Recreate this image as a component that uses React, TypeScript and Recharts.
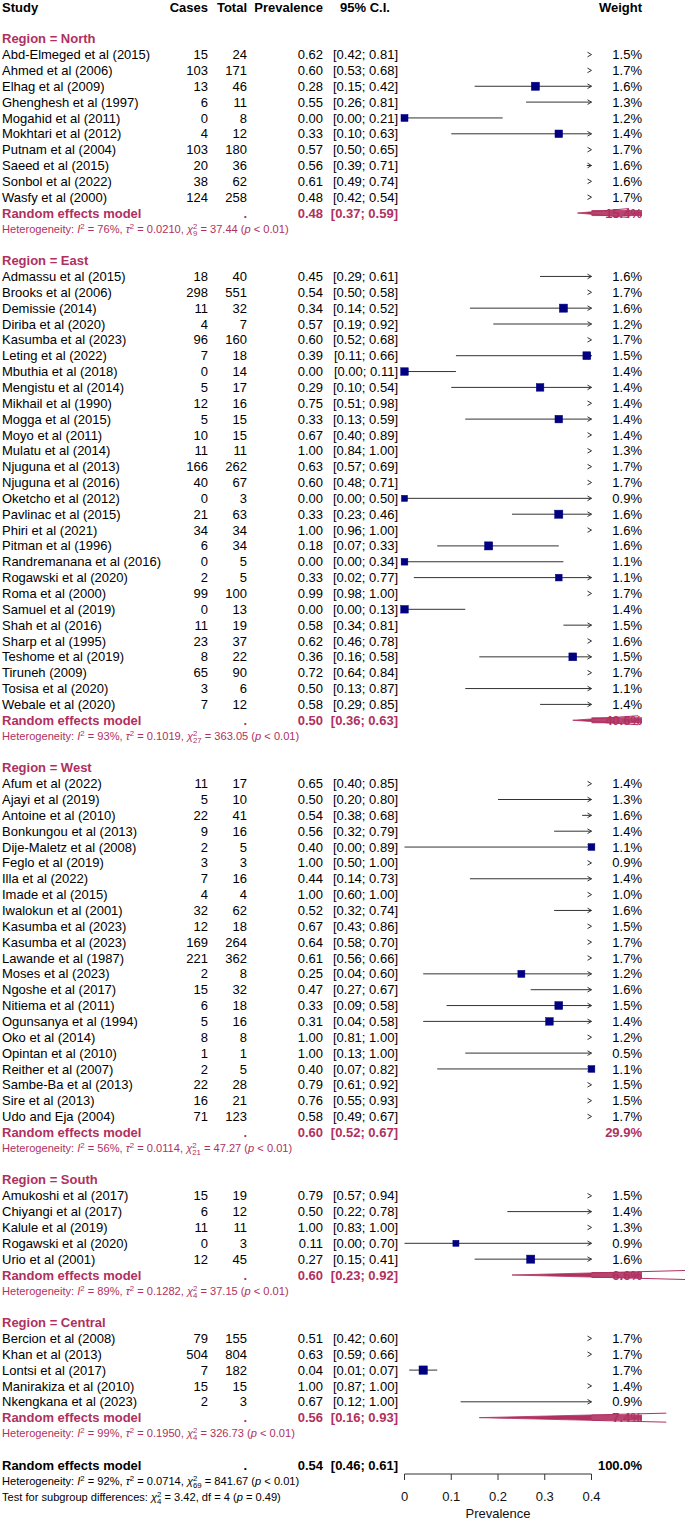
import React from 'react';
import { ScatterChart, Scatter, XAxis, YAxis, ReferenceLine, ReferenceDot } from 'recharts';

type Study = [string, number, number, number, number, number, number];
// [study, cases, total, prevalence, lower, upper, weight %]

const northStudies: Study[] = [
  ['Abd-Elmeged et al (2015)', 15, 24, 0.62, 0.42, 0.81, 1.5],
  ['Ahmed et al (2006)', 103, 171, 0.60, 0.53, 0.68, 1.7],
  ['Elhag et al (2009)', 13, 46, 0.28, 0.15, 0.42, 1.6],
  ['Ghenghesh et al (1997)', 6, 11, 0.55, 0.26, 0.81, 1.3],
  ['Mogahid et al (2011)', 0, 8, 0.00, 0.00, 0.21, 1.2],
  ['Mokhtari et al (2012)', 4, 12, 0.33, 0.10, 0.63, 1.4],
  ['Putnam et al (2004)', 103, 180, 0.57, 0.50, 0.65, 1.7],
  ['Saeed et al (2015)', 20, 36, 0.56, 0.39, 0.71, 1.6],
  ['Sonbol et al (2022)', 38, 62, 0.61, 0.49, 0.74, 1.6],
  ['Wasfy et al (2000)', 124, 258, 0.48, 0.42, 0.54, 1.7],
];

const eastStudies: Study[] = [
  ['Admassu et al (2015)', 18, 40, 0.45, 0.29, 0.61, 1.6],
  ['Brooks et al (2006)', 298, 551, 0.54, 0.50, 0.58, 1.7],
  ['Demissie (2014)', 11, 32, 0.34, 0.14, 0.52, 1.6],
  ['Diriba et al (2020)', 4, 7, 0.57, 0.19, 0.92, 1.2],
  ['Kasumba et al (2023)', 96, 160, 0.60, 0.52, 0.68, 1.7],
  ['Leting et al (2022)', 7, 18, 0.39, 0.11, 0.66, 1.5],
  ['Mbuthia et al (2018)', 0, 14, 0.00, 0.00, 0.11, 1.4],
  ['Mengistu et al (2014)', 5, 17, 0.29, 0.10, 0.54, 1.4],
  ['Mikhail et al (1990)', 12, 16, 0.75, 0.51, 0.98, 1.4],
  ['Mogga et al (2015)', 5, 15, 0.33, 0.13, 0.59, 1.4],
  ['Moyo et al (2011)', 10, 15, 0.67, 0.40, 0.89, 1.4],
  ['Mulatu et al (2014)', 11, 11, 1.00, 0.84, 1.00, 1.3],
  ['Njuguna et al (2013)', 166, 262, 0.63, 0.57, 0.69, 1.7],
  ['Njuguna et al (2016)', 40, 67, 0.60, 0.48, 0.71, 1.7],
  ['Oketcho et al (2012)', 0, 3, 0.00, 0.00, 0.50, 0.9],
  ['Pavlinac et al (2015)', 21, 63, 0.33, 0.23, 0.46, 1.6],
  ['Phiri et al (2021)', 34, 34, 1.00, 0.96, 1.00, 1.6],
  ['Pitman et al (1996)', 6, 34, 0.18, 0.07, 0.33, 1.6],
  ['Randremanana et al (2016)', 0, 5, 0.00, 0.00, 0.34, 1.1],
  ['Rogawski et al (2020)', 2, 5, 0.33, 0.02, 0.77, 1.1],
  ['Roma et al (2000)', 99, 100, 0.99, 0.98, 1.00, 1.7],
  ['Samuel et al (2019)', 0, 13, 0.00, 0.00, 0.13, 1.4],
  ['Shah et al (2016)', 11, 19, 0.58, 0.34, 0.81, 1.5],
  ['Sharp et al (1995)', 23, 37, 0.62, 0.46, 0.78, 1.6],
  ['Teshome et al (2019)', 8, 22, 0.36, 0.16, 0.58, 1.5],
  ['Tiruneh (2009)', 65, 90, 0.72, 0.64, 0.84, 1.7],
  ['Tosisa et al (2020)', 3, 6, 0.50, 0.13, 0.87, 1.1],
  ['Webale et al (2020)', 7, 12, 0.58, 0.29, 0.85, 1.4],
];

const westStudies: Study[] = [
  ['Afum et al (2022)', 11, 17, 0.65, 0.40, 0.85, 1.4],
  ['Ajayi et al (2019)', 5, 10, 0.50, 0.20, 0.80, 1.3],
  ['Antoine et al (2010)', 22, 41, 0.54, 0.38, 0.68, 1.6],
  ['Bonkungou et al (2013)', 9, 16, 0.56, 0.32, 0.79, 1.4],
  ['Dije-Maletz et al (2008)', 2, 5, 0.40, 0.00, 0.89, 1.1],
  ['Feglo et al (2019)', 3, 3, 1.00, 0.50, 1.00, 0.9],
  ['Illa et al (2022)', 7, 16, 0.44, 0.14, 0.73, 1.4],
  ['Imade et al (2015)', 4, 4, 1.00, 0.60, 1.00, 1.0],
  ['Iwalokun et al (2001)', 32, 62, 0.52, 0.32, 0.74, 1.6],
  ['Kasumba et al (2023)', 12, 18, 0.67, 0.43, 0.86, 1.5],
  ['Kasumba et al (2023)', 169, 264, 0.64, 0.58, 0.70, 1.7],
  ['Lawande et al (1987)', 221, 362, 0.61, 0.56, 0.66, 1.7],
  ['Moses et al (2023)', 2, 8, 0.25, 0.04, 0.60, 1.2],
  ['Ngoshe et al (2017)', 15, 32, 0.47, 0.27, 0.67, 1.6],
  ['Nitiema et al (2011)', 6, 18, 0.33, 0.09, 0.58, 1.5],
  ['Ogunsanya et al (1994)', 5, 16, 0.31, 0.04, 0.58, 1.4],
  ['Oko et al (2014)', 8, 8, 1.00, 0.81, 1.00, 1.2],
  ['Opintan et al (2010)', 1, 1, 1.00, 0.13, 1.00, 0.5],
  ['Reither et al (2007)', 2, 5, 0.40, 0.07, 0.82, 1.1],
  ['Sambe-Ba et al (2013)', 22, 28, 0.79, 0.61, 0.92, 1.5],
  ['Sire et al (2013)', 16, 21, 0.76, 0.55, 0.93, 1.5],
  ['Udo and Eja (2004)', 71, 123, 0.58, 0.49, 0.67, 1.7],
];

const southStudies: Study[] = [
  ['Amukoshi et al (2017)', 15, 19, 0.79, 0.57, 0.94, 1.5],
  ['Chiyangi et al (2017)', 6, 12, 0.50, 0.22, 0.78, 1.4],
  ['Kalule et al (2019)', 11, 11, 1.00, 0.83, 1.00, 1.3],
  ['Rogawski et al (2020)', 0, 3, 0.11, 0.00, 0.70, 0.9],
  ['Urio et al (2001)', 12, 45, 0.27, 0.15, 0.41, 1.6],
];

const centralStudies: Study[] = [
  ['Bercion et al (2008)', 79, 155, 0.51, 0.42, 0.60, 1.7],
  ['Khan et al (2013)', 504, 804, 0.63, 0.59, 0.66, 1.7],
  ['Lontsi et al (2017)', 7, 182, 0.04, 0.01, 0.07, 1.7],
  ['Manirakiza et al (2010)', 15, 15, 1.00, 0.87, 1.00, 1.4],
  ['Nkengkana et al (2023)', 2, 3, 0.67, 0.12, 1.00, 0.9],
];

const regionNames = ['North', 'East', 'West', 'South', 'Central'];
const regionStudies = [northStudies, eastStudies, westStudies, southStudies, centralStudies];
const subgroupEst = [0.48, 0.50, 0.60, 0.60, 0.56];
const subgroupLower = [0.37, 0.36, 0.52, 0.23, 0.16];
const subgroupUpper = [0.59, 0.63, 0.67, 0.92, 0.93];
const subgroupWeight = ['15.4%', '40.6%', '29.9%', '6.6%', '7.4%'];
const hetI2 = ['76%', '93%', '56%', '89%', '99%'];
const hetTau2 = ['0.0210', '0.1019', '0.0114', '0.1282', '0.1950'];
const hetDf = ['9', '27', '21', '4', '4'];
const hetChi2 = ['37.44', '363.05', '47.27', '37.15', '326.73'];
const hetP = ['< 0.01', '< 0.01', '< 0.01', '< 0.01', '< 0.01'];

const overallSummary = [0.54, 0.46, 0.61];
const overallWeight = '100.0%';
const overallHet = ['92%', '0.0714', '69', '841.67', '< 0.01'];
const subgroupTest = ['4', '3.42', '4', '= 0.49'];

const xTicks = [0, 0.1, 0.2, 0.3, 0.4];
const X_MAX = 0.4;

// layout / style
const MAROON = '#B03060';
const NAVY = '#000080';
const LINE = '#333333';
const FS = 13;
const SFS = 11.1;
const SUP = 7.8;
const COL_STUDY = 2;
const COL_CASES = 208;
const COL_TOTAL = 247;
const COL_PREV = 323;
const COL_CI = 398;
const COL_CI_HEAD = 365;
const COL_WEIGHT = 642;
const Y_MAX = 92.555;

type RowKind = 'header' | 'blank' | 'region' | 'study' | 'sub' | 'het' | 'overall' | 'overallHet' | 'test';
interface Row { kind: RowKind; g?: number; s?: Study }

const rows: Row[] = [];
rows.push({ kind: 'header' });
rows.push({ kind: 'blank' });
regionStudies.forEach((list, g) => {
  rows.push({ kind: 'region', g });
  list.forEach((s) => rows.push({ kind: 'study', g, s }));
  rows.push({ kind: 'sub', g });
  rows.push({ kind: 'het', g });
  rows.push({ kind: 'blank' });
});
rows.push({ kind: 'overall' });
rows.push({ kind: 'overallHet' });
rows.push({ kind: 'test' });

const f2 = (v: number) => v.toFixed(2);
const ciText = (lo: number, hi: number) => `[${f2(lo)}; ${f2(hi)}]`;

const squareData = rows
  .map((r, i) => ({ r, i }))
  .filter(({ r }) => r.kind === 'study' && (r.s as Study)[3] <= X_MAX)
  .map(({ r, i }) => ({ x: (r.s as Study)[3], y: i, w: (r.s as Study)[6] }));

function txt(x: number, cy: number, s: string, anchor: 'start' | 'middle' | 'end', opts: { bold?: boolean; fill?: string; size?: number } = {}) {
  return (
    <text
      x={x}
      y={cy}
      dy="0.35em"
      textAnchor={anchor}
      fontSize={opts.size ?? FS}
      fontWeight={opts.bold ? 'bold' : 'normal'}
      fill={opts.fill ?? '#000'}
    >
      {s}
    </text>
  );
}

function chiPart(df: string) {
  const w2 = SUP * 0.556;
  return [
    <tspan key="c" fontStyle="italic">χ</tspan>,
    <tspan key="c2" dy={-4} fontSize={SUP}>2</tspan>,
    <tspan key="cd" dx={-w2} dy={7} fontSize={SUP}>{df}</tspan>,
  ];
}

function hetLine(cy: number, fill: string, i2: string, tau2: string, df: string, chi2: string, p: string) {
  return (
    <text x={COL_STUDY} y={cy} dy="0.35em" fontSize={SFS} fill={fill}>
      {'Heterogeneity: '}
      <tspan fontStyle="italic">I</tspan>
      <tspan dy={-4} fontSize={SUP}>2</tspan>
      <tspan dy={4}>{` = ${i2}, `}</tspan>
      <tspan fontStyle="italic">τ</tspan>
      <tspan dy={-4} fontSize={SUP}>2</tspan>
      <tspan dy={4}>{` = ${tau2}, `}</tspan>
      {chiPart(df)}
      <tspan dy={-3}>{` = ${chi2} (`}</tspan>
      <tspan fontStyle="italic">p</tspan>
      <tspan>{` ${p})`}</tspan>
    </text>
  );
}

function renderRow(row: Row, cy: number) {
  switch (row.kind) {
    case 'header':
      return (
        <g>
          {txt(COL_STUDY, cy, 'Study', 'start', { bold: true })}
          {txt(COL_CASES, cy, 'Cases', 'end', { bold: true })}
          {txt(COL_TOTAL, cy, 'Total', 'end', { bold: true })}
          {txt(COL_PREV, cy, 'Prevalence', 'end', { bold: true })}
          {txt(COL_CI_HEAD, cy, '95% C.I.', 'middle', { bold: true })}
          {txt(COL_WEIGHT, cy, 'Weight', 'end', { bold: true })}
        </g>
      );
    case 'region':
      return <g>{txt(COL_STUDY, cy, `Region = ${regionNames[row.g as number]}`, 'start', { bold: true, fill: MAROON })}</g>;
    case 'study': {
      const s = row.s as Study;
      return (
        <g>
          {txt(COL_STUDY, cy, s[0], 'start')}
          {txt(COL_CASES, cy, String(s[1]), 'end')}
          {txt(COL_TOTAL, cy, String(s[2]), 'end')}
          {txt(COL_PREV, cy, f2(s[3]), 'end')}
          {txt(COL_CI, cy, ciText(s[4], s[5]), 'end')}
          {txt(COL_WEIGHT, cy, `${s[6].toFixed(1)}%`, 'end')}
        </g>
      );
    }
    case 'sub': {
      const g = row.g as number;
      const o = { bold: true, fill: MAROON };
      return (
        <g>
          {txt(COL_STUDY, cy, 'Random effects model', 'start', o)}
          {txt(COL_TOTAL, cy, '.', 'end', o)}
          {txt(COL_PREV, cy, f2(subgroupEst[g]), 'end', o)}
          {txt(COL_CI, cy, ciText(subgroupLower[g], subgroupUpper[g]), 'end', o)}
          {txt(COL_WEIGHT, cy, subgroupWeight[g], 'end', o)}
        </g>
      );
    }
    case 'het': {
      const g = row.g as number;
      return hetLine(cy, MAROON, hetI2[g], hetTau2[g], hetDf[g], hetChi2[g], hetP[g]);
    }
    case 'overall': {
      const o = { bold: true };
      return (
        <g>
          {txt(COL_STUDY, cy, 'Random effects model', 'start', o)}
          {txt(COL_TOTAL, cy, '.', 'end', o)}
          {txt(COL_PREV, cy, f2(overallSummary[0]), 'end', o)}
          {txt(COL_CI, cy, ciText(overallSummary[1], overallSummary[2]), 'end', o)}
          {txt(COL_WEIGHT, cy, overallWeight, 'end', o)}
        </g>
      );
    }
    case 'overallHet':
      return hetLine(cy, '#000', overallHet[0], overallHet[1], overallHet[2], overallHet[3], overallHet[4]);
    case 'test':
      return (
        <text x={COL_STUDY} y={cy} dy="0.35em" fontSize={SFS} fill="#000">
          {'Test for subgroup differences: '}
          {chiPart(subgroupTest[0])}
          <tspan dy={-3}>{` = ${subgroupTest[1]}, df = ${subgroupTest[2]} (`}</tspan>
          <tspan fontStyle="italic">p</tspan>
          <tspan>{` ${subgroupTest[3]})`}</tspan>
        </text>
      );
    default:
      return <g />;
  }
}

function ciShape(p: any, hi: number) {
  const { x1, y1, x2 } = p;
  const arrow = hi > X_MAX;
  return (
    <g>
      {x2 > x1 && <line x1={x1} y1={y1} x2={x2} y2={y1} stroke={LINE} strokeWidth={1} />}
      {arrow && (
        <path d={`M${x2 - 4},${y1 - 2.3} L${x2},${y1} L${x2 - 4},${y1 + 2.3}`} fill="none" stroke={LINE} strokeWidth={1} />
      )}
    </g>
  );
}

function diamondShape(p: any, g: number) {
  const lo = subgroupLower[g];
  const est = subgroupEst[g];
  const { x1, y1: cy, x2 } = p; // x1 = scale(lower), x2 = scale(X_MAX)
  const k = (x2 - x1) / (X_MAX - lo);
  const xe = x1 + (est - lo) * k;
  const H = 4.5;
  const hh = (H * (X_MAX - lo)) / (est - lo);
  return (
    <g>
      <polygon points={`${x1},${cy} ${x2},${cy - hh} ${x2},${cy + hh}`} fill={MAROON} stroke={MAROON} strokeWidth={0.8} />
      <rect x={x2} y={cy - 3} width={COL_WEIGHT - x2} height={6} fill={MAROON} fillOpacity={0.9} />
      <line x1={x2} y1={cy - hh} x2={xe} y2={cy - H} stroke={MAROON} strokeWidth={1} />
      <line x1={x2} y1={cy + hh} x2={xe} y2={cy + H} stroke={MAROON} strokeWidth={1} />
    </g>
  );
}

const SquareShape = (p: any) => {
  const side = 6.4 * Math.sqrt(p.payload.w);
  return <rect x={p.cx - side / 2} y={p.cy - side / 2} width={side} height={side} fill={NAVY} stroke={NAVY} strokeWidth={0.5} />;
};

export default function App() {
  return (
    <div
      style={{
        position: 'absolute',
        left: 0,
        top: 0,
        width: 685,
        height: 1520,
        background: '#fff',
        fontFamily: '"Liberation Sans", Arial, Helvetica, sans-serif',
      }}
    >
      <ScatterChart width={685} height={1520} margin={{ top: 7, right: 93.5, bottom: 0, left: 404.5 }}>
        <XAxis
          type="number"
          dataKey="x"
          domain={[0, X_MAX]}
          ticks={xTicks}
          interval={0}
          height={46}
          tickSize={6}
          tickMargin={12}
          axisLine={{ stroke: LINE }}
          tickLine={{ stroke: LINE }}
          tick={{ fontSize: FS, fill: '#111' }}
          label={{ value: 'Prevalence', position: 'insideBottom', offset: 2.5, fontSize: FS, fill: '#111' }}
        />
        <YAxis type="number" dataKey="y" domain={[0, Y_MAX]} reversed hide width={0} />
        {rows.map((r, i) =>
          r.kind === 'study' ? (
            <ReferenceLine
              key={`ci-${i}`}
              segment={[
                { x: Math.min((r.s as Study)[4], X_MAX), y: i },
                { x: Math.min((r.s as Study)[5], X_MAX), y: i },
              ]}
              ifOverflow="visible"
              shape={(p: any) => ciShape(p, (r.s as Study)[5])}
            />
          ) : null
        )}
        {rows.map((r, i) =>
          r.kind !== 'blank' ? (
            <ReferenceDot key={`t-${i}`} x={0} y={i} ifOverflow="visible" shape={(p: any) => renderRow(r, p.cy)} />
          ) : null
        )}
        {rows.map((r, i) =>
          r.kind === 'sub' && subgroupLower[r.g as number] < X_MAX ? (
            <ReferenceLine
              key={`d-${i}`}
              segment={[
                { x: subgroupLower[r.g as number], y: i },
                { x: X_MAX, y: i },
              ]}
              ifOverflow="visible"
              shape={(p: any) => diamondShape(p, r.g as number)}
            />
          ) : null
        )}
        <Scatter data={squareData} isAnimationActive={false} shape={SquareShape} />
      </ScatterChart>
    </div>
  );
}
